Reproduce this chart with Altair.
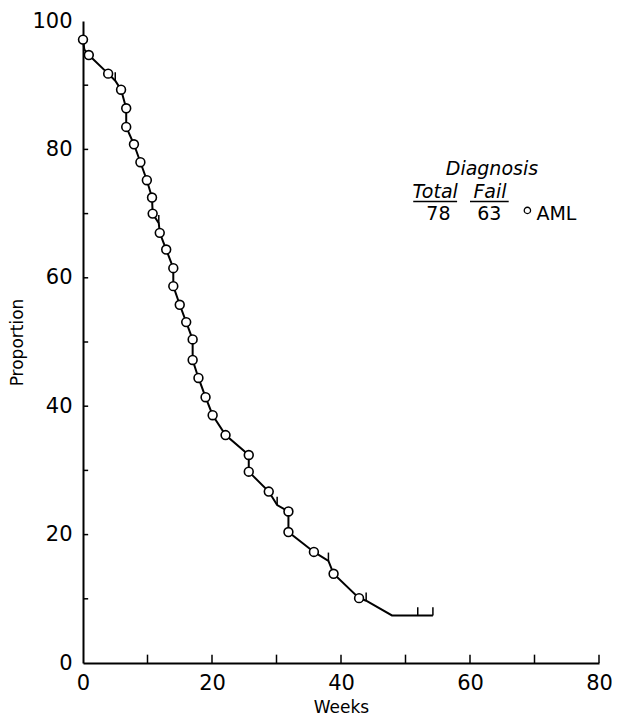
import altair as alt
import pandas as pd

# ---- data (weeks, proportion in %) ----
circle_weeks = [0.0, 0.9, 3.9, 5.9, 6.7, 6.7, 7.9, 8.9, 9.9, 10.7,
                10.8, 11.9, 12.9, 14.0, 14.0, 15.0, 16.0, 17.0, 17.0, 17.9,
                19.0, 20.1, 22.1, 25.7, 25.7, 28.8, 31.85, 31.85, 35.8, 38.85,
                42.8]
circle_props = [97.1, 94.7, 91.8, 89.3, 86.4, 83.5, 80.8, 78.0, 75.2, 72.5,
                70.0, 67.0, 64.4, 61.5, 58.7, 55.8, 53.1, 50.4, 47.2, 44.4,
                41.4, 38.6, 35.5, 32.4, 29.8, 26.7, 23.6, 20.4, 17.3, 13.9,
                10.1]

censor_weeks = [5.0, 11.75, 30.1, 38.05, 43.9, 51.9, 54.25]
censor_props = [90.7, 68.5, 24.6, 15.9, 9.7, 7.4, 7.4]

extra_weeks = [0.2, 47.9]
extra_props = [95.6, 7.4]

x_label_values = [0, 20, 40, 60, 80]
y_label_values = [0, 20, 40, 60, 80, 100]
x_tick_values = [10, 20, 30, 40, 50, 60, 70, 80]
y_tick_values = [10, 20, 30, 40, 50, 60, 70, 80, 90]

legend_texts = ["Diagnosis", "Total", "Fail", "78", "63", "AML"]
legend_x = [63.4, 54.6, 63.1, 55.1, 63.0, 70.3]
legend_y = [76.9, 73.3, 73.3, 69.9, 69.9, 69.9]
legend_italic = ["italic", "italic", "italic", "normal", "normal", "normal"]
legend_align = ["center", "center", "center", "center", "center", "left"]

underline_x = [51.2, 60.0]
underline_x2 = [58.0, 66.0]
underline_y = [71.9, 71.9]

legend_sym_x = [68.9]
legend_sym_y = [70.5]

FONT = "DejaVu Sans"

# ---- tables ----
circles = pd.DataFrame({"week": circle_weeks, "prop": circle_props})
censors = pd.DataFrame({"week": censor_weeks, "prop": censor_props})
censors["top"] = censors["prop"] + 1.3
extras = pd.DataFrame({"week": extra_weeks, "prop": extra_props})
curve = pd.concat([circles, censors[["week", "prop"]], extras], ignore_index=True)
curve = curve.sort_values(["week", "prop"], ascending=[True, False]).reset_index(drop=True)
curve["i"] = range(len(curve))

xt = pd.DataFrame({"week": x_tick_values, "p0": 0.0, "p1": 1.3})
yt = pd.DataFrame({"prop": y_tick_values, "w0": 0.0, "w1": 0.8})

leg = pd.DataFrame({"text": legend_texts, "week": legend_x, "prop": legend_y,
                    "style": legend_italic, "align": legend_align})
ul = pd.DataFrame({"week": underline_x, "week2": underline_x2, "prop": underline_y})
sym = pd.DataFrame({"week": legend_sym_x, "prop": legend_sym_y})

xscale = alt.Scale(domain=[0, 80], nice=False, zero=False)
yscale = alt.Scale(domain=[0, 100], nice=False, zero=False)

xaxis = alt.Axis(values=x_label_values, title="Weeks", grid=False, ticks=False,
                 domainColor="black", domainWidth=2, labelFont=FONT,
                 labelFontSize=21, labelColor="black", labelPadding=9,
                 titleFont=FONT, titleFontSize=17, titleFontWeight="normal",
                 titleColor="black", titlePadding=6, labelFlush=False)
yaxis = alt.Axis(values=y_label_values, title="Proportion", grid=False, ticks=False,
                 domainColor="black", domainWidth=2, labelFont=FONT,
                 labelFontSize=21, labelColor="black", labelPadding=11,
                 titleFont=FONT, titleFontSize=17, titleFontWeight="normal",
                 titleColor="black", titlePadding=5, labelFlush=False)

base_x = alt.X("week:Q", scale=xscale, axis=xaxis)
base_y = alt.Y("prop:Q", scale=yscale, axis=yaxis)

line = alt.Chart(curve).mark_line(color="black", strokeWidth=2).encode(
    x=base_x, y=base_y, order="i:Q")

cens = alt.Chart(censors).mark_rule(color="black", strokeWidth=1.5).encode(
    x=alt.X("week:Q", scale=xscale), y=alt.Y("prop:Q", scale=yscale), y2="top:Q")

pts = alt.Chart(circles).mark_point(shape="circle", size=78, filled=True,
                                    fill="white", stroke="black",
                                    strokeWidth=1.6, opacity=1).encode(
    x=alt.X("week:Q", scale=xscale), y=alt.Y("prop:Q", scale=yscale))

xticks = alt.Chart(xt).mark_rule(color="black", strokeWidth=1.5).encode(
    x=alt.X("week:Q", scale=xscale), y=alt.Y("p0:Q", scale=yscale), y2="p1:Q")
yticks = alt.Chart(yt).mark_rule(color="black", strokeWidth=1.5).encode(
    y=alt.Y("prop:Q", scale=yscale), x=alt.X("w0:Q", scale=xscale), x2="w1:Q")

leg_italic = alt.Chart(leg[leg["style"] == "italic"]).mark_text(
    font=FONT, fontSize=19, fontStyle="italic", color="black",
    align="center", baseline="middle").encode(
    x=alt.X("week:Q", scale=xscale), y=alt.Y("prop:Q", scale=yscale), text="text:N")
leg_num = alt.Chart(leg[(leg["style"] == "normal") & (leg["align"] == "center")]).mark_text(
    font=FONT, fontSize=19, color="black", align="center", baseline="middle").encode(
    x=alt.X("week:Q", scale=xscale), y=alt.Y("prop:Q", scale=yscale), text="text:N")
leg_aml = alt.Chart(leg[leg["align"] == "left"]).mark_text(
    font=FONT, fontSize=19, color="black", align="left", baseline="middle").encode(
    x=alt.X("week:Q", scale=xscale), y=alt.Y("prop:Q", scale=yscale), text="text:N")
leg_ul = alt.Chart(ul).mark_rule(color="black", strokeWidth=1.5).encode(
    x=alt.X("week:Q", scale=xscale), x2="week2:Q", y=alt.Y("prop:Q", scale=yscale))
leg_sym = alt.Chart(sym).mark_point(shape="circle", size=40, filled=True,
                                    fill="white", stroke="black",
                                    strokeWidth=1.3, opacity=1).encode(
    x=alt.X("week:Q", scale=xscale), y=alt.Y("prop:Q", scale=yscale))

chart = alt.layer(line, cens, pts, xticks, yticks, leg_italic, leg_num, leg_aml,
                  leg_ul, leg_sym).properties(
    width=516, height=642,
    autosize=alt.AutoSizeParams(type="none"),
    padding={"left": 75, "top": 13, "right": 13, "bottom": 53},
    background="white",
).configure_view(stroke=None)

chart.save("out.html", embed_options={"renderer": "svg", "actions": False})
